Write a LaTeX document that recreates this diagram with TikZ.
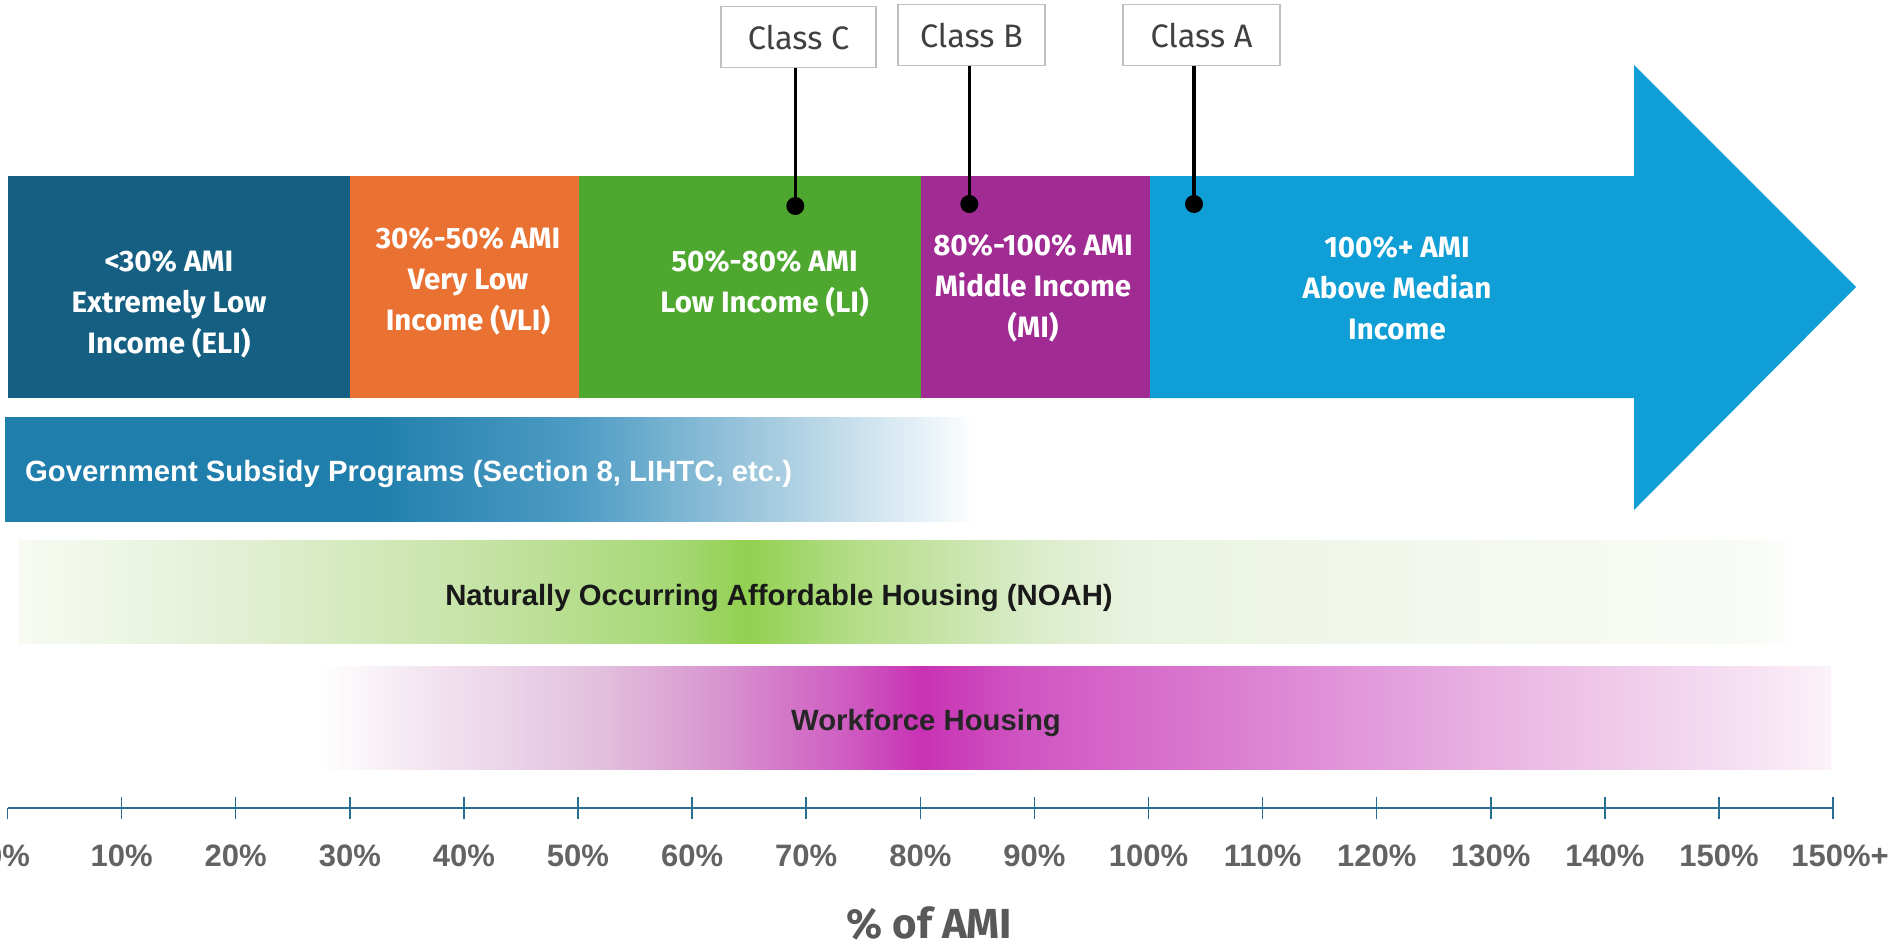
\documentclass[tikz,border=0pt]{standalone}
\usepackage{fontspec}
\usetikzlibrary{calc}
\newfontfamily\labelfont{Fira Sans}
\newfontfamily\barfont{Liberation Sans}

% segment colours of the income arrow
\definecolor{eliblue}{HTML}{156082}
\definecolor{vliorange}{HTML}{E97132}
\definecolor{ligreen}{HTML}{4EA72E}
\definecolor{mipurple}{HTML}{A02B93}
\definecolor{amiblue}{HTML}{0F9ED5}
% bands and axis
\definecolor{subsidy}{HTML}{1F7EAB}
\definecolor{axisblue}{HTML}{2A6D90}
\definecolor{axisgray}{HTML}{636363}
\definecolor{titlegray}{HTML}{595959}
\definecolor{boxgray}{HTML}{BFBFBF}
\definecolor{classtext}{HTML}{404040}

% gradient stops
\definecolor{gA}{HTML}{4E9CC4}
\definecolor{gB}{HTML}{A5CBDF}
\definecolor{gC}{HTML}{E3EFF6}
\definecolor{nA}{HTML}{F7FBF3}
\definecolor{nB}{HTML}{E2EFD3}
\definecolor{nC}{HTML}{C5E3A5}
\definecolor{nD}{HTML}{A6D875}
\definecolor{nE}{HTML}{92D050}
\definecolor{nF}{HTML}{B1DC83}
\definecolor{nG}{HTML}{D8EBC6}
\definecolor{nH}{HTML}{EAF3E0}
\definecolor{nI}{HTML}{F3F8EE}
\definecolor{nJ}{HTML}{F8FBF6}
\definecolor{wA}{HTML}{F3E6F1}
\definecolor{wB}{HTML}{E2BFDD}
\definecolor{wC}{HTML}{D893CF}
\definecolor{wD}{HTML}{CF5EC2}
\definecolor{wE}{HTML}{C832B4}
\definecolor{wF}{HTML}{D055C2}
\definecolor{wG}{HTML}{DA78CF}
\definecolor{wH}{HTML}{E39EDC}
\definecolor{wI}{HTML}{EDC1E7}
\definecolor{wJ}{HTML}{F6E1F2}
\definecolor{wK}{HTML}{FBF2F9}

% the band from 25bp to 75bp is stretched over each filled rectangle
\pgfdeclarehorizontalshading{subsidyshade}{100bp}{%
  color(0bp)=(subsidy); color(25bp)=(subsidy); color(43.64bp)=(subsidy);
  color(54.5bp)=(gA); color(64.44bp)=(gB); color(71.91bp)=(gC);
  color(75bp)=(white); color(100bp)=(white)}
\pgfdeclarehorizontalshading{noahshade}{100bp}{%
  color(0bp)=(nA); color(25bp)=(nA); color(31.27bp)=(nB); color(38.06bp)=(nC);
  color(43.49bp)=(nD); color(45.51bp)=(nE); color(48.21bp)=(nF);
  color(53.31bp)=(nG); color(56.37bp)=(nH); color(65.18bp)=(nI);
  color(73.99bp)=(nJ); color(75bp)=(white); color(100bp)=(white)}
\pgfdeclarehorizontalshading{workshade}{100bp}{%
  color(0bp)=(white); color(25bp)=(white); color(28.41bp)=(wA); color(34.36bp)=(wB);
  color(38.36bp)=(wC); color(42.33bp)=(wD); color(44.94bp)=(wE);
  color(48.31bp)=(wF); color(54.3bp)=(wG); color(60.28bp)=(wH);
  color(66.24bp)=(wI); color(72.22bp)=(wJ); color(75bp)=(wK); color(100bp)=(wK)}

\begin{document}
\begin{tikzpicture}[x=1pt,y=-1pt,
  seglabel/.style={text=white, align=center, inner sep=0pt,
    font=\labelfont\bfseries\fontsize{29.5}{41}\selectfont},
  classbox/.style={draw=boxgray, line width=1.5pt, fill=white,
    minimum height=61pt, inner sep=0pt, text=classtext,
    font=\labelfont\fontsize{32.5}{38}\selectfont},
  pin/.style={circle, fill=black, inner sep=0pt, minimum size=18pt},
  pinline/.style={line width=3.5pt, black},
  bandtext/.style={inner sep=0pt, font=\barfont\bfseries\fontsize{29.3}{35}\selectfont},
  axisline/.style={axisblue, line width=2.5pt},
  tickline/.style={axisblue, line width=1.5pt},
  ticklabel/.style={inner sep=0pt, text=axisgray,
    font=\barfont\bfseries\fontsize{31}{37}\selectfont},
]
\useasboundingbox[fill=white] (0,0) rectangle (1890,947);

% income arrow, segment by segment
\fill[eliblue]   (8,176)   rectangle (350.5,398);
\fill[vliorange] (350,176) rectangle (579.5,398);
\fill[ligreen]   (579,176) rectangle (921.5,398);
\fill[mipurple]  (921,176) rectangle (1150.5,398);
\fill[amiblue] (1150,176) -- (1634,176) -- (1634,65) -- (1856,287)
  -- (1634,510) -- (1634,398) -- (1150,398) -- cycle;

\node[seglabel] (eli) at (169,304)    {<30\% AMI\\Extremely Low\\Income (ELI)};
\node[seglabel] (vli) at (468,281.5)  {30\%-50\% AMI\\Very Low\\Income (VLI)};
\node[seglabel] (li)  at (764.5,284)  {50\%-80\% AMI\\Low Income (LI)};
\node[seglabel] (mi)  at (1033,288.5) {80\%-100\% AMI\\Middle Income\\(MI)};
\node[seglabel] (ami) at (1397,288.5) {100\%+ AMI\\Above Median\\Income};

% property classes pinned onto the arrow
\node[classbox, minimum width=155pt] (classC) at (798.5,37.2) {Class C};
\node[classbox, minimum width=147pt] (classB) at (971.5,35.2) {Class B};
\node[classbox, minimum width=157pt] (classA) at (1201.5,35.2) {Class A};
\node[pin] (pinC) at (795.3,206) {};
\node[pin] (pinB) at (969.3,204) {};
\node[pin] (pinA) at (1194,204) {};
\draw[pinline] (classC.south -| pinC) -- (pinC.center);
\draw[pinline] (classB.south -| pinB) -- (pinB.center);
\draw[pinline] (classA.south -| pinA) -- (pinA.center);

% housing programme bands
\shade[shading=subsidyshade] (5,417) rectangle (976,521);
\node[bandtext, text=white, anchor=base west] (subsidytext) at (25,481)
  {Government Subsidy Programs (Section 8, LIHTC, etc.)};
\shade[shading=noahshade] (18,540) rectangle (1795,643);
\node[bandtext, text=black!90, anchor=base] (noahtext) at (779,605)
  {Naturally Occurring Affordable Housing (NOAH)};
\shade[shading=workshade] (319,666) rectangle (1831,769);
\node[bandtext, text=black!85, anchor=base] (worktext) at (926,730)
  {Workforce Housing};

% AMI axis
\coordinate (axisL) at (7.5,808);
\coordinate (axisR) at (1833.1,808);
\draw[axisline] (axisL) -- (axisR);
\draw[tickline] (axisL) -- ++(0,11);
\foreach \k in {1,...,16}
  \draw[tickline] ($(axisL)+(114.1*\k,-11)$) -- ++(0,22);
\foreach \k in {0,...,15}
  \node[ticklabel, anchor=base] (tick\k) at (7.5+114.1*\k,866)
    {\the\numexpr\k*10\relax\%};
\node[ticklabel, anchor=base] (tick16) at (1840,866) {150\%+};
\node[inner sep=0pt, anchor=base, text=titlegray,
  font=\labelfont\bfseries\fontsize{42}{50}\selectfont] (axistitle) at (929.5,938)
  {\% of AMI};
\end{tikzpicture}
\end{document}
